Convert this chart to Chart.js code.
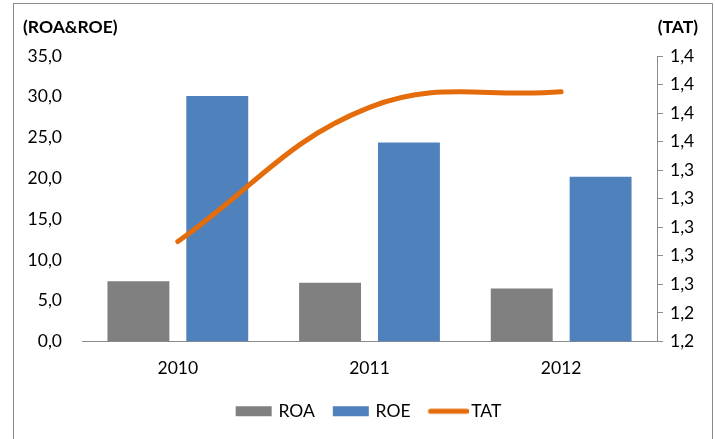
<!DOCTYPE html>
<html>
<head>
<meta charset="utf-8">
<script src="https://cdn.jsdelivr.net/npm/chart.js@4/dist/chart.umd.min.js"></script>
<style>
  html, body { margin: 0; padding: 0; background: #fff; }
  #wrap { position: relative; width: 715px; height: 439px; }
</style>
</head>
<body>
<div id="wrap"><canvas id="c" width="715" height="439"></canvas></div>
<script>
const years = ['2010', '2011', '2012'];
const roa = [7.4, 7.2, 6.5];
const roe = [30.1, 24.4, 20.2];
const tat = [1.280, 1.374, 1.385];
const leftTicks = [0, 5, 10, 15, 20, 25, 30, 35];
const rightTickValues = [1.21, 1.23, 1.25, 1.27, 1.29, 1.31, 1.33, 1.35, 1.37, 1.39, 1.41];
const rightTickLabels = ['1,2', '1,2', '1,3', '1,3', '1,3', '1,3', '1,3', '1,4', '1,4', '1,4', '1,4'];
const leftTitle = '(ROA&ROE)';
const rightTitle = '(TAT)';

const FONT = 'Lato, "Open Sans", "Liberation Sans", sans-serif';
const FS = 17.5;

function makeIcon(color, isLine) {
  const cv = document.createElement('canvas');
  cv.width = 44; cv.height = 12;
  const x = cv.getContext('2d');
  if (isLine) {
    x.strokeStyle = color; x.lineWidth = 5; x.lineCap = 'round';
    x.beginPath(); x.moveTo(6, 6); x.lineTo(42, 6); x.stroke();
  } else {
    x.fillStyle = color;
    x.fillRect(4, 1, 36, 10);
  }
  return cv;
}
const icons = [makeIcon('#808080'), makeIcon('#4F81BD'), makeIcon('#E46C0A', true)];

const framePlugin = {
  id: 'frame',
  beforeDraw(chart) {
    const ctx = chart.ctx;
    ctx.save();
    ctx.fillStyle = '#fff';
    ctx.fillRect(0, 0, chart.width, chart.height);
    ctx.strokeStyle = '#8c8c8c';
    ctx.lineWidth = 1;
    ctx.strokeRect(13.5, 3.5, 699, 520);
    ctx.restore();
  },
  afterDraw(chart) {
    const ctx = chart.ctx;
    ctx.save();
    ctx.fillStyle = '#000';
    ctx.font = 'bold ' + FS + 'px ' + FONT;
    ctx.textBaseline = 'middle';
    ctx.textAlign = 'left';
    ctx.fillText(leftTitle, 23, 27);
    ctx.textAlign = 'right';
    ctx.fillText(rightTitle, 698, 27);
    ctx.restore();
  }
};

new Chart(document.getElementById('c'), {
  data: {
    labels: years,
    datasets: [
      { type: 'bar', label: 'ROA', data: roa, backgroundColor: '#808080', yAxisID: 'y', order: 2,
        categoryPercentage: 0.823, barPercentage: 0.785 },
      { type: 'bar', label: 'ROE', data: roe, backgroundColor: '#4F81BD', yAxisID: 'y', order: 2,
        categoryPercentage: 0.823, barPercentage: 0.785 },
      { type: 'line', label: 'TAT', data: tat, borderColor: '#E46C0A', backgroundColor: '#E46C0A',
        borderWidth: 5, borderCapStyle: 'round', tension: 0.4, pointRadius: 0, yAxisID: 'y1', order: 1 }
    ]
  },
  options: {
    responsive: false,
    animation: false,
    devicePixelRatio: 1,
    layout: { padding: { top: 56, left: 0, right: 0, bottom: 9 } },
    plugins: {
      tooltip: { enabled: false },
      title: { display: false },
      legend: {
        position: 'bottom',
        fullSize: false,
        labels: {
          usePointStyle: true,
          pointStyleWidth: 32,
          padding: 20,
          color: '#000',
          font: { family: FONT, size: FS },
          sort: (a, b) => a.datasetIndex - b.datasetIndex,
          generateLabels(chart) {
            return chart.data.datasets.map((ds, i) => ({
              text: ds.label, datasetIndex: i, pointStyle: icons[i],
              fillStyle: ds.backgroundColor, strokeStyle: ds.backgroundColor, lineWidth: 0, hidden: false
            }));
          }
        }
      }
    },
    scales: {
      x: {
        offset: true,
        grid: { display: false, drawTicks: false },
        border: { display: true, color: '#8c8c8c', width: 1 },
        ticks: { color: '#000', font: { family: FONT, size: FS }, padding: 16 },
        afterFit(s) { s.height = 41; }
      },
      y: {
        position: 'left',
        min: 0, max: 35,
        grid: { display: false, drawTicks: false },
        border: { display: false },
        afterBuildTicks(s) { s.ticks = leftTicks.map(v => ({ value: v })); },
        ticks: {
          color: '#000', font: { family: FONT, size: FS }, padding: 20,
          callback: v => v.toFixed(1).replace('.', ',')
        },
        afterFit(s) { s.width = 82; }
      },
      y1: {
        position: 'right',
        min: 1.21, max: 1.41,
        grid: { display: true, drawOnChartArea: false, drawTicks: true, tickLength: 6, color: '#8c8c8c' },
        border: { display: true, color: '#8c8c8c', width: 1 },
        afterBuildTicks(s) { s.ticks = rightTickValues.map(v => ({ value: v })); },
        ticks: {
          color: '#000', font: { family: FONT, size: FS }, padding: 7, autoSkip: false,
          callback: (v, i) => rightTickLabels[i]
        },
        afterFit(s) { s.width = 58; }
      }
    }
  },
  plugins: [framePlugin]
});
</script>
</body>
</html>
